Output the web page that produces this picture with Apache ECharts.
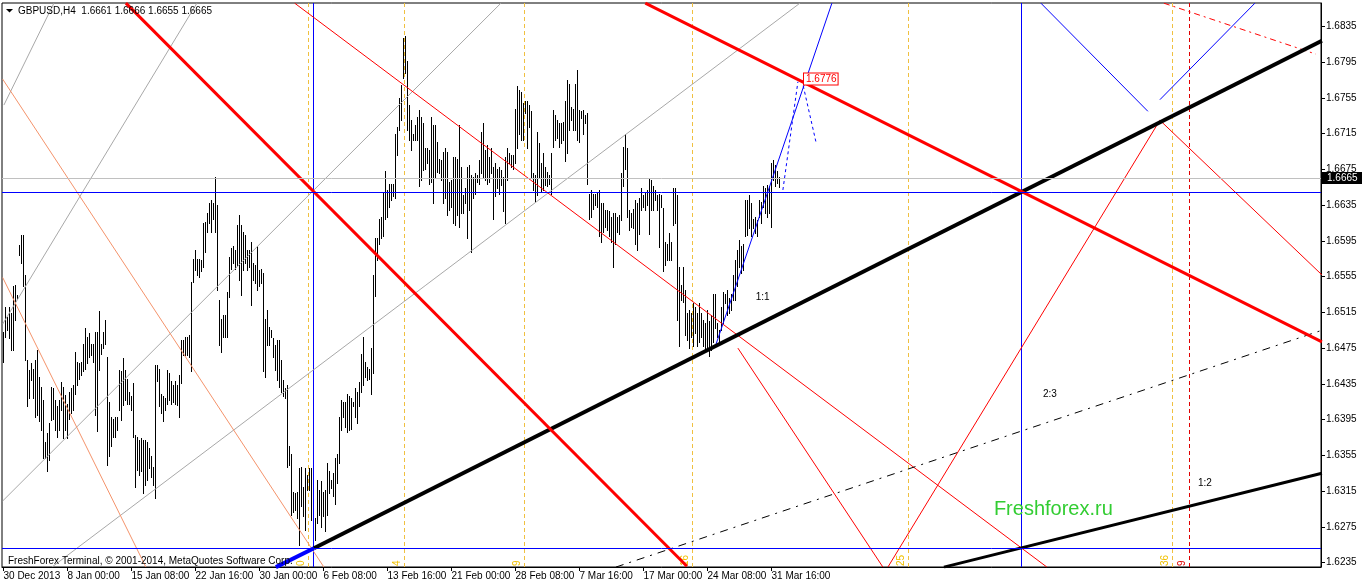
<!DOCTYPE html>
<html><head><meta charset="utf-8">
<script src="https://cdn.jsdelivr.net/npm/echarts@6/dist/echarts.min.js"></script>
<style>html,body{margin:0;padding:0;background:#fff}#c{width:1362px;height:586px}</style>
</head><body><div id="c"></div>
<script>
// ---------------- DATA ----------------
const highs = [
1.6493,1.6521,1.6510,1.6521,1.6514,1.6544,1.6546,1.6535,1.6590,1.6602,
1.6602,1.6557,1.6462,1.6451,1.6458,1.6452,1.6462,1.6473,1.6443,1.6432,
1.6417,1.6370,1.6380,1.6391,1.6432,1.6430,1.6417,1.6410,1.6417,1.6437,
1.6432,1.6423,1.6413,1.6426,1.6430,1.6434,1.6471,1.6460,1.6458,1.6460,
1.6480,1.6497,1.6488,1.6492,1.6480,1.6480,1.6493,1.6493,1.6516,1.6480,
1.6493,1.6506,1.6465,1.6415,1.6398,1.6396,1.6398,1.6398,1.6451,1.6449,
1.6464,1.6451,1.6441,1.6426,1.6421,1.6436,1.6378,1.6376,1.6372,1.6374,
1.6372,1.6372,1.6370,1.6363,1.6354,1.6342,1.6456,1.6456,1.6452,1.6424,
1.6421,1.6419,1.6451,1.6447,1.6438,1.6434,1.6438,1.6434,1.6445,1.6484,
1.6484,1.6488,1.6488,1.6490,1.6549,1.6575,1.6585,1.6575,1.6575,1.6574,
1.6615,1.6616,1.6626,1.6637,1.6641,1.6637,1.6667,1.6635,1.6529,1.6508,
1.6512,1.6512,1.6538,1.6577,1.6587,1.6589,1.6585,1.6613,1.6624,1.6613,
1.6605,1.6602,1.6585,1.6585,1.6594,1.6570,1.6568,1.6589,1.6562,1.6564,
1.6559,1.6508,1.6518,1.6499,1.6495,1.6486,1.6478,1.6484,1.6484,1.6462,
1.6439,1.6430,1.6434,1.6365,1.6357,1.6314,1.6313,1.6314,1.6341,1.6342,
1.6320,1.6341,1.6333,1.6341,1.6341,1.6287,1.6285,1.6327,1.6316,1.6326,
1.6314,1.6316,1.6346,1.6337,1.6327,1.6335,1.6352,1.6357,1.6398,1.6417,
1.6415,1.6415,1.6424,1.6421,1.6419,1.6415,1.6430,1.6426,1.6437,1.6469,
1.6488,1.6460,1.6454,1.6452,1.6475,1.6557,1.6598,1.6598,1.6620,1.6622,
1.6650,1.6673,1.6652,1.6659,1.6659,1.6659,1.6715,1.6723,1.6755,1.6769,
1.6822,1.6824,1.6796,1.6747,1.6730,1.6715,1.6725,1.6734,1.6741,1.6734,
1.6727,1.6699,1.6699,1.6697,1.6734,1.6725,1.6725,1.6706,1.6687,1.6686,
1.6695,1.6699,1.6695,1.6661,1.6663,1.6689,1.6689,1.6687,1.6725,1.6678,
1.6646,1.6654,1.6678,1.6680,1.6669,1.6667,1.6671,1.6669,1.6686,1.6717,
1.6727,1.6697,1.6702,1.6689,1.6699,1.6678,1.6682,1.6676,1.6678,1.6674,
1.6667,1.6689,1.6699,1.6693,1.6691,1.6691,1.6743,1.6768,1.6764,1.6762,
1.6749,1.6751,1.6751,1.6747,1.6740,1.6671,1.6669,1.6717,1.6704,1.6682,
1.6693,1.6678,1.6672,1.6669,1.6693,1.6741,1.6736,1.6730,1.6727,1.6727,
1.6728,1.6751,1.6775,1.6771,1.6745,1.6743,1.6771,1.6786,1.6741,1.6740,
1.6741,1.6736,1.6738,1.6648,1.6652,1.6648,1.6648,1.6650,1.6652,1.6637,
1.6637,1.6630,1.6630,1.6628,1.6622,1.6626,1.6626,1.6622,1.6624,1.6671,
1.6700,1.6715,1.6699,1.6630,1.6626,1.6631,1.6641,1.6637,1.6643,1.6654,
1.6646,1.6650,1.6652,1.6665,1.6663,1.6656,1.6652,1.6646,1.6648,1.6646,
1.6632,1.6594,1.6592,1.6604,1.6594,1.6654,1.6654,1.6646,1.6566,1.6546,
1.6566,1.6540,1.6514,1.6518,1.6514,1.6525,1.6521,1.6514,1.6525,1.6514,
1.6507,1.6503,1.6518,1.6505,1.6512,1.6536,1.6536,1.6503,1.6495,1.6521,
1.6538,1.6536,1.6540,1.6531,1.6536,1.6557,1.6574,1.6585,1.6596,1.6589,
1.6591,1.6641,1.6641,1.6646,1.6637,1.6620,1.6622,1.6618,1.6641,1.6639,
1.6656,1.6654,1.6658,1.6656,1.6682,1.6686,1.6680,1.6673,1.6666
];
const lows = [
1.6459,1.6488,1.6495,1.6486,1.6473,1.6473,1.6507,1.6531,1.6579,1.6570,
1.6544,1.6462,1.6410,1.6419,1.6439,1.6419,1.6398,1.6400,1.6393,1.6383,
1.6352,1.6352,1.6337,1.6350,1.6395,1.6396,1.6383,1.6376,1.6383,1.6406,
1.6374,1.6383,1.6374,1.6396,1.6402,1.6406,1.6424,1.6434,1.6441,1.6445,
1.6449,1.6452,1.6458,1.6465,1.6467,1.6460,1.6400,1.6382,1.6451,1.6469,
1.6475,1.6480,1.6344,1.6354,1.6365,1.6376,1.6376,1.6383,1.6406,1.6395,
1.6411,1.6417,1.6413,1.6413,1.6406,1.6376,1.6320,1.6339,1.6333,1.6337,
1.6313,1.6322,1.6327,1.6341,1.6331,1.6322,1.6307,1.6438,1.6410,1.6402,
1.6393,1.6406,1.6413,1.6417,1.6413,1.6415,1.6413,1.6411,1.6398,1.6436,
1.6467,1.6467,1.6467,1.6465,1.6449,1.6549,1.6562,1.6557,1.6555,1.6561,
1.6566,1.6583,1.6605,1.6615,1.6605,1.6620,1.6605,1.6540,1.6479,1.6471,
1.6488,1.6488,1.6488,1.6532,1.6564,1.6570,1.6564,1.6568,1.6551,1.6535,
1.6562,1.6570,1.6562,1.6566,1.6523,1.6551,1.6548,1.6540,1.6544,1.6548,
1.6449,1.6443,1.6479,1.6479,1.6488,1.6465,1.6450,1.6439,1.6432,1.6426,
1.6421,1.6419,1.6342,1.6344,1.6288,1.6292,1.6294,1.6285,1.6255,1.6298,
1.6287,1.6272,1.6316,1.6316,1.6283,1.6253,1.6260,1.6279,1.6288,1.6275,
1.6287,1.6270,1.6288,1.6313,1.6318,1.6309,1.6301,1.6324,1.6346,1.6383,
1.6398,1.6387,1.6381,1.6383,1.6385,1.6410,1.6398,1.6391,1.6410,1.6426,
1.6434,1.6443,1.6439,1.6441,1.6424,1.6447,1.6533,1.6574,1.6592,1.6598,
1.6600,1.6620,1.6622,1.6633,1.6641,1.6645,1.6643,1.6691,1.6719,1.6730,
1.6777,1.6783,1.6719,1.6708,1.6697,1.6708,1.6708,1.6708,1.6656,1.6663,
1.6674,1.6676,1.6682,1.6659,1.6661,1.6637,1.6667,1.6672,1.6671,1.6663,
1.6637,1.6643,1.6624,1.6630,1.6633,1.6615,1.6613,1.6624,1.6611,1.6626,
1.6626,1.6637,1.6598,1.6630,1.6583,1.6643,1.6648,1.6661,1.6659,1.6671,
1.6667,1.6663,1.6659,1.6661,1.6671,1.6620,1.6645,1.6654,1.6648,1.6658,
1.6628,1.6615,1.6663,1.6682,1.6678,1.6676,1.6682,1.6699,1.6715,1.6708,
1.6708,1.6738,1.6699,1.6723,1.6667,1.6652,1.6639,1.6646,1.6665,1.6650,
1.6652,1.6658,1.6656,1.6659,1.6648,1.6700,1.6708,1.6710,1.6700,1.6704,
1.6708,1.6684,1.6693,1.6719,1.6730,1.6719,1.6719,1.6708,1.6706,1.6732,
1.6715,1.6727,1.6659,1.6620,1.6622,1.6631,1.6635,1.6633,1.6600,1.6594,
1.6605,1.6611,1.6607,1.6600,1.6594,1.6566,1.6592,1.6605,1.6603,1.6618,
1.6656,1.6676,1.6622,1.6607,1.6611,1.6609,1.6592,1.6585,1.6603,1.6630,
1.6633,1.6630,1.6635,1.6603,1.6630,1.6630,1.6641,1.6630,1.6588,1.6633,
1.6561,1.6568,1.6574,1.6574,1.6574,1.6613,1.6615,1.6507,1.6477,1.6529,
1.6527,1.6490,1.6484,1.6475,1.6488,1.6477,1.6492,1.6477,1.6482,1.6488,
1.6477,1.6473,1.6475,1.6466,1.6473,1.6482,1.6497,1.6488,1.6479,1.6495,
1.6503,1.6525,1.6512,1.6514,1.6518,1.6529,1.6529,1.6544,1.6566,1.6559,
1.6562,1.6600,1.6602,1.6609,1.6600,1.6609,1.6604,1.6600,1.6622,1.6615,
1.6633,1.6626,1.6622,1.6626,1.6611,1.6663,1.6656,1.6660,1.6655
];
const xTickIdx = [0,32,64,96,128,160,192,224,256,288,320,352,384];
const xTickLabels = ["30 Dec 2013","8 Jan 00:00","15 Jan 08:00","22 Jan 16:00","30 Jan 00:00","6 Feb 08:00","13 Feb 16:00","21 Feb 00:00","28 Feb 08:00","7 Mar 16:00","17 Mar 00:00","24 Mar 08:00","31 Mar 16:00"];
const yTicks = [1.6235,1.6275,1.6315,1.6355,1.6395,1.6435,1.6475,1.6515,1.6555,1.6595,1.6635,1.6675,1.6715,1.6755,1.6795,1.6835];
const titleText = "GBPUSD,H4  1.6661 1.6666 1.6655 1.6665";
const footerText = "FreshForex Terminal, \u00a9 2001-2014, MetaQuotes Software Corp.";
const lastPrice = 1.6665;
const levelBlue = 1.6650;
const levelBottom = 1.6251;
const vLineIdx = [155.15, 509.15];
const zoneIdx = [152.65, 200.65, 260.65, 344.65, 452.65, 584.65];
const zoneText = ["0","4","9","16","25","36"];
const zoneRedIdx = [593.15];
const zoneRedText = ["9"];
// trend lines: [bar index, price] anchors
const redThick1 = [[61.2,1.6861],[341.7,1.6231]];
const redThick2 = [[320.9,1.6861],[659.2,1.6482]];
const blackThick = [[155.2,1.6251],[659.2,1.6819]];
const blueThickExt = [[136.2,1.6230],[155.2,1.6251]];
const blackMid = [[470.2,1.6230],[659.2,1.6335]];
const dashDot = [[306.2,1.6230],[659.2,1.6495]];
const redThinA = [[145.6,1.6861],[521.7,1.6230]];
const redThinB = [[367.2,1.6475],[439.7,1.6230]];
const redThinC = [[442.2,1.6230],[578.2,1.6730]];
const redThinD = [[578.2,1.6730],[659.2,1.6557]];
const redDash = [[580.2,1.6861],[656.2,1.6804]];
const blueThinA = [[518.7,1.6861],[572.2,1.6740]];
const blueThinB = [[578.2,1.6753],[625.7,1.6861]];
const blueRay = [[356.2,1.6479],[414.2,1.6861]];
const blueDashA = [[389.7,1.6652],[397.2,1.6773]];
const blueDashB = [[399.2,1.6775],[406.2,1.6706]];
const grayA = [[0.2,1.6747],[25.2,1.6861]];
const grayB = [[-0.4,1.6502],[96.7,1.6861]];
const grayC = [[-0.4,1.6304],[248.7,1.6861]];
const grayD = [[24.2,1.6230],[398.2,1.6861]];
const salmonE = [[-0.4,1.6776],[160.2,1.6230]];
const salmonF = [[-0.4,1.6554],[71.2,1.6230]];
const noteIdx = [379.6, 523.2, 600.7];
const notePrice = [1.6532, 1.6423, 1.6324];
const noteText = ["1:1","2:3","1:2"];
const brandIdx = 495.2, brandPrice = 1.6295, brandText = "Freshforex.ru";
const tagIdx = 400.2, tagPrice = 1.6776;

// ---------------- CHART ----------------
const X_MIN = -0.75, X_MAX = 658.75, Y_MIN = 1.62301, Y_MAX = 1.68612;
const FONT = '"Liberation Sans", Arial, sans-serif';
const chart = echarts.init(document.getElementById('c'), null, {renderer:'canvas'});

function seg(points, color, width, type, z) {
  return {type:'line', data: points, symbol:'none', silent:true, clip:true, z: z||4,
    lineStyle:{color:color, width:width, type:type||'solid'}, animation:false};
}
function hLines(levels, color, z) {
  return {type:'custom', z: z||3, silent:true, clip:false, data: levels.map(l=>[X_MIN, l]), encode:{x:0,y:1},
    renderItem:(p, api) => {
      const cs = p.coordSys;
      const y = Math.round(api.coord([api.value(0), api.value(1)])[1]) + 0.5;
      return {type:'line', shape:{x1:cs.x, y1:y, x2:cs.x+cs.width, y2:y}, style:{stroke:color, fill:null, lineWidth:1}};
    }};
}
function vLines(idxArr, texts, color, dash, textColor) {
  return {type:'custom', z:3, silent:true, clip:false, data: idxArr.map((v,i)=>[v, Y_MIN, i]), encode:{x:0,y:1},
    renderItem:(p, api) => {
      const cs = p.coordSys;
      const c = api.coord([api.value(0), api.value(1)]);
      const x = Math.floor(c[0]) + 0.5;
      const ls = {stroke:color, fill:null, lineWidth:1};
      if (dash) ls.lineDash = dash;
      const kids = [{type:'line', shape:{x1:x, y1:cs.y, x2:x, y2:cs.y+cs.height}, style:ls}];
      if (texts) kids.push({type:'text', x:x-7, y:cs.y+cs.height-1, rotation:Math.PI/2,
        style:{text:texts[api.value(2)], fill:textColor, font:'10px '+FONT, align:'left', verticalAlign:'middle'}});
      return {type:'group', children:kids};
    }};
}

const barSeries = {type:'custom', z:2, silent:true, clip:true,
  data: highs.map((h,i)=>[i, h, lows[i]]), encode:{x:0, y:[1,2]},
  renderItem:(p, api) => {
    const a = api.coord([api.value(0), api.value(1)]);
    const b = api.coord([api.value(0), api.value(2)]);
    const x = Math.floor(a[0]);
    const y1 = Math.round(a[1]), y2 = Math.round(b[1]);
    return {type:'rect', shape:{x:x, y:y1, width:1, height:Math.max(1, y2-y1+1)}, style:{fill:'#000'}};
  }};

const priceBox = {type:'custom', z:30, silent:true, clip:false, data:[[X_MIN, lastPrice]], encode:{x:0,y:1},
  renderItem:(p, api) => {
    const cs = p.coordSys;
    const y = Math.floor(api.coord([api.value(0), api.value(1)])[1]) + 0.5;
    return {type:'group', children:[
      {type:'line', shape:{x1:cs.x, y1:y, x2:cs.x+cs.width, y2:y}, style:{stroke:'#c0c0c0', lineWidth:1}},
      {type:'rect', shape:{x:cs.x+cs.width+1, y:y-6.5, width:41, height:12}, style:{fill:'#000'}},
      {type:'text', x:cs.x+cs.width+6, y:y, style:{text:api.value(1).toFixed(4), fill:'#fff', font:'10px '+FONT, verticalAlign:'middle'}}
    ]};
  }};

const notesSeries = {type:'custom', z:20, silent:true, clip:false,
  data: noteIdx.map((v,i)=>[v, notePrice[i], i]), encode:{x:0,y:1},
  renderItem:(p, api) => {
    const c = api.coord([api.value(0), api.value(1)]);
    return {type:'text', x:c[0], y:c[1], style:{text:noteText[api.value(2)], fill:'#000', font:'10px '+FONT, align:'center', verticalAlign:'middle'}};
  }};
const brandSeries = {type:'custom', z:20, silent:true, clip:false, data:[[brandIdx, brandPrice]], encode:{x:0,y:1},
  renderItem:(p, api) => {
    const c = api.coord([api.value(0), api.value(1)]);
    return {type:'text', x:c[0], y:c[1], style:{text:brandText, fill:'#32cd32', font:'20px '+FONT, align:'left', verticalAlign:'middle'}};
  }};
const tagSeries = {type:'custom', z:20, silent:true, clip:false, data:[[tagIdx, tagPrice]], encode:{x:0,y:1},
  renderItem:(p, api) => {
    const c = api.coord([api.value(0), api.value(1)]);
    return {type:'text', x:Math.round(c[0]), y:Math.round(c[1]), style:{text:api.value(1).toFixed(4), fill:'#ff0000', font:'10px '+FONT,
      align:'left', verticalAlign:'middle', backgroundColor:'#fff', borderColor:'#ff0000', borderWidth:1, padding:[1,1,0,2]}};
  }};

const option = {
  animation:false,
  backgroundColor:'#fff',
  grid:{left:2, right:41, top:3, bottom:19, show:true, borderColor:'#000', borderWidth:1, backgroundColor:'#fff'},
  xAxis:{type:'value', min:X_MIN, max:X_MAX,
    axisLine:{show:true, onZero:false, lineStyle:{color:'#000', width:1}},
    axisTick:{show:true, customValues:xTickIdx, length:4, lineStyle:{color:'#000'}},
    axisLabel:{customValues:xTickIdx, formatter:(v)=>{const k=xTickIdx.indexOf(Math.round(v)); return k>=0?xTickLabels[k]:'';},
      align:'left', margin:4, color:'#000', fontSize:10, fontFamily:FONT},
    splitLine:{show:false}},
  yAxis:{type:'value', position:'right', min:Y_MIN, max:Y_MAX,
    axisLine:{show:true, onZero:false, lineStyle:{color:'#000', width:1}},
    axisTick:{show:true, customValues:yTicks, length:4, lineStyle:{color:'#000'}},
    axisLabel:{customValues:yTicks, formatter:(v)=>v.toFixed(4), margin:5, color:'#000', fontSize:10, fontFamily:FONT},
    splitLine:{show:false}},
  graphic:[
    {type:'polygon', z:50, shape:{points:[[6,9],[13,9],[9.5,12.5]]}, style:{fill:'#000'}},
    {type:'text', z:50, x:18, y:11, style:{text:titleText, fill:'#000', font:'10px '+FONT, verticalAlign:'middle'}},
    {type:'text', z:50, x:8, y:561, style:{text:footerText, fill:'#000', font:'10px '+FONT, verticalAlign:'middle'}}
  ],
  series:[
    barSeries,
    priceBox,
    vLines(vLineIdx, null, '#0000ff', null, null),
    vLines(zoneIdx, zoneText, '#f0c040', [4,3], '#f0c000'),
    vLines(zoneRedIdx, zoneRedText, '#e00000', [4,3], '#e00000'),
    seg(grayA, '#a8a8a8', 1), seg(grayB, '#a8a8a8', 1), seg(grayC, '#a8a8a8', 1), seg(grayD, '#a8a8a8', 1),
    seg(salmonE, '#f4936b', 1), seg(salmonF, '#f4936b', 1),
    seg(redThinA, '#ff0000', 1), seg(redThinB, '#ff0000', 1), seg(redThinC, '#ff0000', 1), seg(redThinD, '#ff0000', 1),
    seg(redDash, '#ff0000', 1, [6,4,2,4]),
    seg(blueThinA, '#0000ff', 1), seg(blueThinB, '#0000ff', 1), seg(blueRay, '#0000ff', 1),
    seg(blueDashA, '#0000ff', 1, [3,3]), seg(blueDashB, '#0000ff', 1, [3,3]),
    seg(dashDot, '#000', 1, [8,6,2,6]),
    seg(blackMid, '#000', 3, 'solid', 6),
    seg(blackThick, '#000', 4, 'solid', 6),
    seg(blueThickExt, '#0000ff', 4, 'solid', 6),
    seg(redThick1, '#ff0000', 3, 'solid', 7),
    seg(redThick2, '#ff0000', 3, 'solid', 7),
    hLines([levelBlue, levelBottom], '#0000ff', 8),
    notesSeries, brandSeries, tagSeries
  ]
};
chart.setOption(option);
</script></body></html>
